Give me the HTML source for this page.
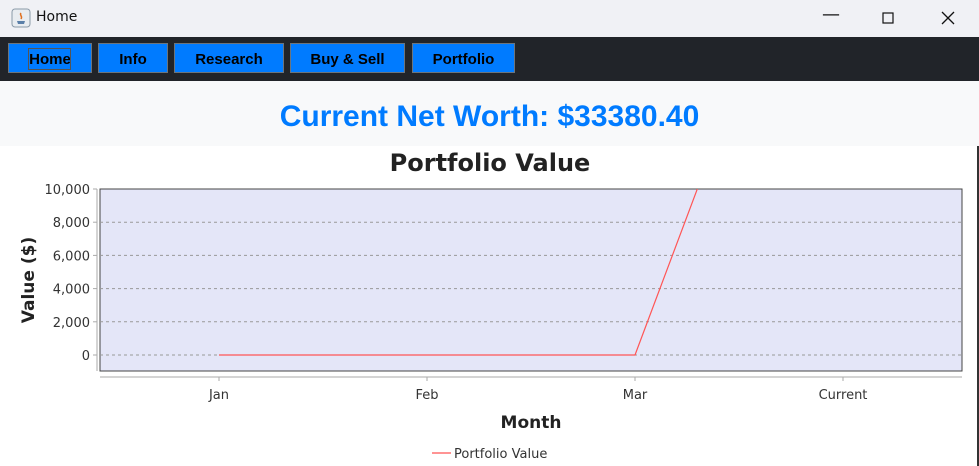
<!DOCTYPE html>
<html><head><meta charset="utf-8"><style>
body{margin:0;width:979px;height:466px;overflow:hidden;background:#fff;font-family:"Liberation Sans",sans-serif;position:relative}
#title{position:absolute;left:0;top:0;width:979px;height:37px;background:#f0f1f5}
#title span{position:absolute;left:36px;top:9px;color:#111;font-family:"DejaVu Sans","Liberation Sans",sans-serif;font-size:14px}
#nav{position:absolute;left:0;top:37px;width:979px;height:44px;background:#212429}
.btn{position:absolute;top:6px;height:30px;background:#007bff;border:1px solid #6c757d;box-sizing:border-box;font-weight:bold;font-size:15px;color:#000;text-align:center;line-height:32px}
#hdr{position:absolute;left:0;top:81px;width:979px;height:65px;background:#f8f9fa}
#hdr div{position:absolute;left:0;width:979px;top:19px;text-align:center;color:#007bff;font-weight:bold;font-size:30px}
</style></head><body>
<div id="title">
<svg style="position:absolute;left:11px;top:8px" width="20" height="20"><rect x="1" y="1" width="18" height="18" rx="3" fill="#e8ecf0" stroke="#8a9aa8"/><path d="M6 13h8l-1 3H7z" fill="#5a7fa8"/><path d="M10 5c-2 2 2 3 0 6" stroke="#e07020" fill="none" stroke-width="1.5"/></svg>
<span>Home</span>
<span style="left:822px;top:4px;font-size:18px">—</span>
<svg style="position:absolute;left:882px;top:12px" width="12" height="12"><rect x="1" y="1" width="10" height="10" fill="none" stroke="#111" stroke-width="1.2"/></svg>
<svg style="position:absolute;left:941px;top:11px" width="14" height="14"><path d="M1 1L13 13M13 1L1 13" stroke="#111" stroke-width="1.3"/></svg>
</div>
<div id="nav">
<div class="btn" style="left:8px;width:84px">Home</div>
<div style="position:absolute;left:28px;top:11px;width:43px;height:22px;border:1px solid #555;box-sizing:border-box"></div>
<div class="btn" style="left:98px;width:70px">Info</div>
<div class="btn" style="left:174px;width:110px">Research</div>
<div class="btn" style="left:290px;width:115px">Buy &amp; Sell</div>
<div class="btn" style="left:412px;width:103px">Portfolio</div>
</div>
<div id="hdr"><div>Current Net Worth: $33380.40</div></div>
<div style="position:absolute;right:0;top:146px;width:2px;height:320px;background:#333"></div>
<svg id="chart" style="position:absolute;left:0;top:0" width="979" height="466">
<defs><clipPath id="clip"><rect x="100" y="189" width="862" height="182"/></clipPath></defs>
</svg>
<script>
const categories=["Jan","Feb","Mar","Current"];
const values=[0,0,0,33380.40];
const yTicks=[0,2000,4000,6000,8000,10000];
const yTickLabels=["0","2,000","4,000","6,000","8,000","10,000"];
const seriesName="Portfolio Value";
const svg=document.getElementById('chart');const NS="http://www.w3.org/2000/svg";
const L=100,R=962,T=189,B=371,yMin=-964,yMax=10000;
const x=i=>219+i*(R-L-238)/(categories.length-1);
const y=v=>B-(v-yMin)/(yMax-yMin)*(B-T);
function mk(t,a,p){const e=document.createElementNS(NS,t);for(const k in a)e.setAttribute(k,a[k]);(p||svg).appendChild(e);return e;}
const tt=mk('text',{x:490,y:171,'text-anchor':'middle','font-size':24,'font-weight':'bold','font-family':'DejaVu Sans, Liberation Sans, sans-serif',fill:'#222'});tt.textContent="Portfolio Value";


const pl=mk('rect',{x:L,y:T,width:R-L,height:B-T,fill:'#e4e6f8',stroke:'#444','stroke-width':1});


mk('line',{x1:97,y1:T,x2:97,y2:B,stroke:'#aaa'});
mk('line',{x1:L,y1:377,x2:R,y2:377,stroke:'#aaa'});
yTicks.forEach((v,i)=>{
 if(v>yMin&&v<yMax){const g=mk('line',{x1:L,y1:y(v),x2:R,y2:y(v),stroke:'#999','stroke-dasharray':'3,3','stroke-width':1});
 
 }
 mk('line',{x1:93,y1:y(v),x2:97,y2:y(v),stroke:'#aaa'});
 const t=mk('text',{x:90,y:y(v)+5,'text-anchor':'end','font-size':13,'font-family':'DejaVu Sans, sans-serif',fill:'#333'});t.textContent=yTickLabels[i];
 
 
});
categories.forEach((c,i)=>{
 mk('line',{x1:x(i),y1:377,x2:x(i),y2:381,stroke:'#aaa'});
 const t=mk('text',{x:x(i),y:399,'text-anchor':'middle','font-size':13,'font-family':'DejaVu Sans, sans-serif',fill:'#333'});t.textContent=c;
 
 
});
const xt=mk('text',{x:531,y:428,'text-anchor':'middle','font-size':17,'font-weight':'bold','font-family':'DejaVu Sans, sans-serif',fill:'#222'});xt.textContent="Month";


const yt=mk('text',{transform:'translate(34,280) rotate(-90)','text-anchor':'middle','font-size':17,'font-weight':'bold','font-family':'DejaVu Sans, sans-serif',fill:'#222'});yt.textContent="Value ($)";


const ln=mk('polyline',{points:values.map((v,i)=>x(i)+','+y(v)).join(' '),fill:'none',stroke:'#ff5555','stroke-width':1.2,'clip-path':'url(#clip)'});


mk('line',{x1:432,y1:453,x2:451,y2:453,stroke:'#ff5555','stroke-width':1.2});
const lg=mk('text',{x:454,y:458,'font-size':13,'font-family':'DejaVu Sans, sans-serif',fill:'#333'});lg.textContent=seriesName;


</script>
</body></html>
